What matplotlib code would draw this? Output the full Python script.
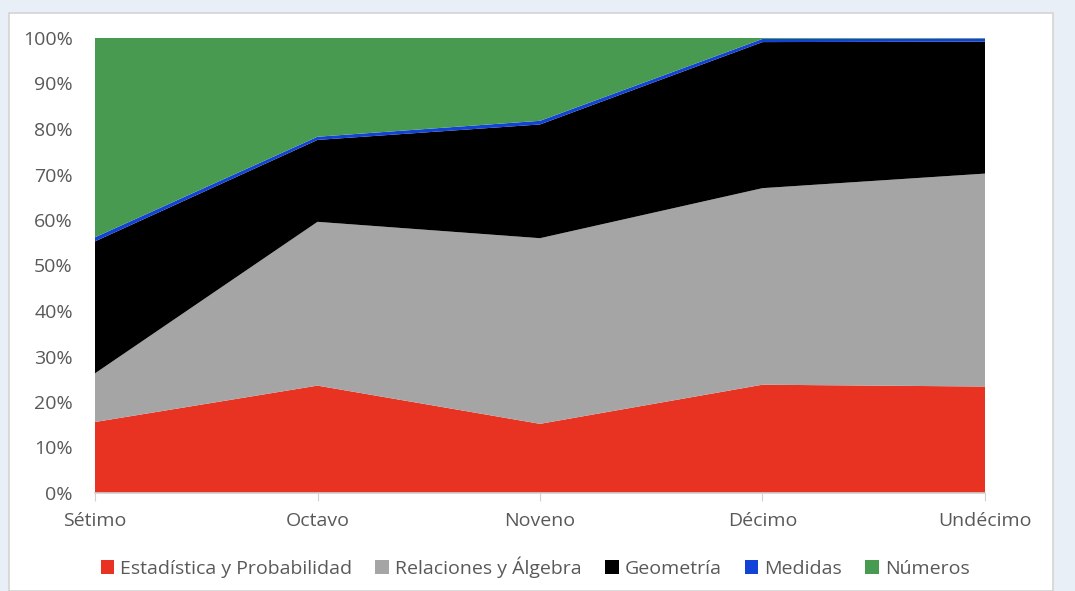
import matplotlib.pyplot as plt
from matplotlib.patches import Rectangle
import numpy as np

grados = ["Sétimo", "Octavo", "Noveno", "Décimo", "Undécimo"]
series = ["Estadística y Probabilidad", "Relaciones y Álgebra", "Geometría", "Medidas", "Números"]

# porcentaje de cada área por grado
estadistica = [15.6, 23.6, 15.2, 23.8, 23.4]
relaciones = [10.7, 36.0, 40.8, 43.2, 46.8]
geometria = [29.0, 18.0, 25.0, 32.1, 29.0]
medidas = [0.9, 0.7, 0.8, 0.7, 0.7]
numeros = [43.8, 21.7, 18.2, 0.2, 0.1]

colores = ["#E83222", "#A5A5A5", "#000000", "#1343D6", "#479A50"]
y_ticks = [0, 10, 20, 30, 40, 50, 60, 70, 80, 90, 100]

plt.rcParams['font.family'] = ['Open Sans', 'DejaVu Sans']

W, H = 1075, 591
fig = plt.figure(figsize=(W / 100, H / 100), dpi=100)
fig.patch.set_facecolor("#E9EFF7")

# panel blanco del gráfico (detrás de los ejes)
fig.patches.append(Rectangle((9 / W, 0), (1053 - 9) / W, (H - 13) / H,
                             transform=fig.transFigure, facecolor="white",
                             edgecolor="#D4D4D4", linewidth=1.2, zorder=-5))

ax = fig.add_axes([95 / W, 1 - 493 / H, (985 - 95) / W, (493 - 38) / H])
ax.set_facecolor("none")

x = np.arange(len(grados))
datos = np.array([estadistica, relaciones, geometria, medidas, numeros])
datos = datos / datos.sum(axis=0) * 100
ax.stackplot(x, datos, colors=colores, labels=series, linewidth=0)

ax.set_xlim(0, len(grados) - 1)
ax.set_ylim(0, 100)
ax.set_xticks(x)
ax.set_xticklabels(grados, fontsize=14, color="#595959")
ax.set_yticks(y_ticks)
ax.set_yticklabels([f"{v}%" for v in y_ticks], fontsize=14, color="#595959")

for s in ["top", "right", "left"]:
    ax.spines[s].set_visible(False)
ax.spines["bottom"].set_color("#D0D0D0")
ax.spines["bottom"].set_linewidth(1.2)
ax.tick_params(axis="x", length=6, color="#D0D0D0", pad=8)
ax.tick_params(axis="y", length=0, pad=16)

leg = fig.legend(loc="center", bbox_to_anchor=(535 / W, 1 - 567 / H), ncol=5,
                 frameon=False, fontsize=14, handlelength=0.7, handleheight=0.7,
                 handletextpad=0.3, columnspacing=1.2)
for t in leg.get_texts():
    t.set_color("#595959")

fig.savefig("out.png", dpi=100, facecolor=fig.get_facecolor())
